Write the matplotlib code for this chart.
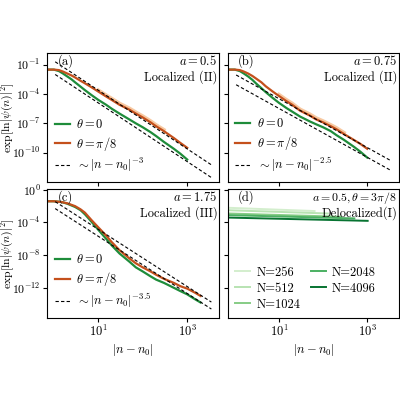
import numpy as np
import matplotlib
matplotlib.use("Agg")
import matplotlib.pyplot as plt
from matplotlib.ticker import FixedLocator, NullLocator

plt.rcParams['font.family'] = 'serif'
plt.rcParams['font.serif'] = ['cmr10', 'DejaVu Serif']
plt.rcParams['mathtext.fontset'] = 'cm'
plt.rcParams['axes.formatter.use_mathtext'] = True
plt.rcParams['font.size'] = 9

GREEN = '#1e8c3a'
ORANGE = '#c4501c'
LORANGE = '#f5b27a'

# panel (a) a=0.5
n_a = [0.7, 1, 1.3, 1.6, 2, 2.5, 3, 4, 5, 7, 10, 15, 20, 30, 50, 70, 100, 150, 200, 300, 500, 700, 1000]
a_g = [-1.5, -1.5, -1.65, -1.9, -2.2, -2.5, -2.8, -3.25, -3.6, -4.1, -4.6, -5.1, -5.5, -6.0, -6.6, -7.0, -7.4, -7.9, -8.3, -8.9, -9.6, -10.1, -10.7]
a_o = [-1.5, -1.5, -1.55, -1.7, -1.9, -2.1, -2.3, -2.65, -2.9, -3.3, -3.75, -4.25, -4.6, -5.1, -5.6, -6.0, -6.4, -6.9, -7.3, -7.8, -8.5, -9.0, -9.5]
a_dash = [(0.03, -0.7, -3.0), (0.03, -2.0, -3.0)]
# panel (b) a=0.75
b_g = [-1.5, -1.5, -1.65, -1.9, -2.2, -2.55, -2.9, -3.4, -3.8, -4.35, -4.9, -5.45, -5.8, -6.3, -6.8, -7.1, -7.4, -7.8, -8.2, -8.7, -9.4, -9.9, -10.5]
b_o = [-1.5, -1.5, -1.55, -1.7, -1.9, -2.15, -2.4, -2.8, -3.2, -3.7, -4.2, -4.75, -5.1, -5.7, -6.2, -6.6, -6.9, -7.3, -7.6, -8.1, -8.7, -9.1, -9.6]
b_dash = [(0.01, -2.0, -2.5), (0.01, -3.0, -2.5)]
# panel (c) a=1.75
n_c = [0.7, 1, 1.5, 2, 3, 4, 5, 7, 10, 15, 20, 30, 50, 70, 100, 150, 200, 300, 500, 700, 1000, 1500, 2000]
c_g = [-1.4, -1.4, -1.5, -1.7, -2.1, -2.5, -3.0, -3.9, -4.9, -6.0, -6.8, -7.8, -8.8, -9.5, -10.0, -10.6, -11.0, -11.4, -12.0, -12.4, -12.8, -13.4, -13.8]
c_o = [-1.4, -1.4, -1.5, -1.65, -2.0, -2.4, -2.8, -3.7, -4.6, -5.6, -6.4, -7.4, -8.4, -9.0, -9.5, -10.0, -10.4, -10.9, -11.4, -11.8, -12.1, -12.6, -13.0]
c_dash = [(0.03, -1.45, -3.5), (0.03, -2.3, -3.5)]
# panel (d) delocalized
N_list = [256, 512, 1024, 2048, 4096]
d_start = [-2.2, -2.5, -2.9, -3.1, -3.4]
d_end = [-2.6, -2.9, -3.3, -3.5, -3.8]

fig = plt.figure(figsize=(4, 4), dpi=100)
W, H = 0.43, 0.3225
axa = fig.add_axes([0.1175, 0.545, W, H])
axb = fig.add_axes([0.57, 0.545, W - 0.003, H])
axc = fig.add_axes([0.1175, 0.205, W, H])
axd = fig.add_axes([0.57, 0.205, W - 0.003, H])

def dashes(ax, specs):
    x = np.array([1.07, 3500.0])
    for lx0, ly0, s in specs:
        ax.plot(x, 10**ly0 * (x / 10**lx0)**s, 'k--', lw=0.8, dashes=(3, 2))

def panel(ax, n, g, o, specs, power, light=True):
    n = np.array(n)
    if light:
        ax.plot(n[10:20], 10**(np.array(o[10:20]) + 0.15), color=LORANGE, lw=2.5, alpha=0.7)
    ax.plot(n, 10**np.array(g), color=GREEN, lw=1.6, label=r'$\theta=0$')
    ax.plot(n, 10**np.array(o), color=ORANGE, lw=1.6, label=r'$\theta=\pi/8$')
    dashes(ax, specs)
    ax.plot([], [], 'k--', lw=0.8, dashes=(3, 2), label=r'$\sim|n-n_0|^{%s}$' % power)
    ax.legend(loc='lower left', frameon=False, handlelength=1.2, borderaxespad=0.2,
              labelspacing=0.3, handletextpad=0.5)

panel(axa, n_a, a_g, a_o, a_dash, '-3')
panel(axb, n_a, b_g, b_o, b_dash, '-2.5')
panel(axc, n_c, c_g, c_o, c_dash, '-3.5', light=False)

cm = plt.get_cmap('Greens')
shades = [cm(0.2), cm(0.3), cm(0.45), cm(0.6), cm(0.85)]
for N, s, e, col in zip(N_list, d_start, d_end, shades):
    x = np.array([0.7, N / 4])
    axd.plot(x, 10**np.array([s, e]), color=col, lw=1.4, label='N=%d' % N)
axd.legend(loc='lower left', ncol=2, frameon=False, handlelength=1.2,
           columnspacing=0.8, labelspacing=0.3, borderaxespad=0.2, handletextpad=0.5)

for ax in (axa, axb, axc, axd):
    ax.set_xscale('log'); ax.set_yscale('log')
    ax.set_xlim(0.7, 5200)
    ax.xaxis.set_major_locator(FixedLocator([10, 1000]))
    ax.xaxis.set_minor_locator(NullLocator())
    ax.yaxis.set_minor_locator(NullLocator())
    ax.tick_params(direction='out', length=3, pad=1.5)
    ax.tick_params(axis='y', labelsize=8.5)
for ax in (axa, axb):
    ax.set_ylim(1e-13, 10**0.2)
    ax.yaxis.set_major_locator(FixedLocator([1e-1, 1e-4, 1e-7, 1e-10]))
    ax.set_xticklabels([])
for ax in (axc, axd):
    ax.set_ylim(10**-15.7, 10**0.1)
    ax.yaxis.set_major_locator(FixedLocator([1, 1e-4, 1e-8, 1e-12]))
    ax.set_xlabel(r'$|n-n_0|$', labelpad=2)
for ax in (axb, axd):
    ax.set_yticklabels([])
for ax in (axa, axc):
    ax.set_ylabel(r'$\exp[\overline{\ln|\psi(n)|^2}]$', fontsize=8.5)
    ax.yaxis.set_label_coords(-0.185, 0.5)

labels = [(axa, '(a)', r'$a=0.5$', 'Localized (II)'),
          (axb, '(b)', r'$a=0.75$', 'Localized (II)'),
          (axc, '(c)', r'$a=1.75$', 'Localized (III)'),
          (axd, '(d)', r'$a=0.5,\theta=3\pi/8$', 'Delocalized(I)')]
for ax, t, l1, l2 in labels:
    ax.text(0.06, 0.99, t, transform=ax.transAxes, va='top', ha='left')
    ax.text(0.99, 0.99, l1, transform=ax.transAxes, va='top', ha='right',
            fontsize=8.5 if t == '(d)' else 9)
    ax.text(0.99, 0.87, l2, transform=ax.transAxes, va='top', ha='right')

fig.savefig('out.png', dpi=100)
